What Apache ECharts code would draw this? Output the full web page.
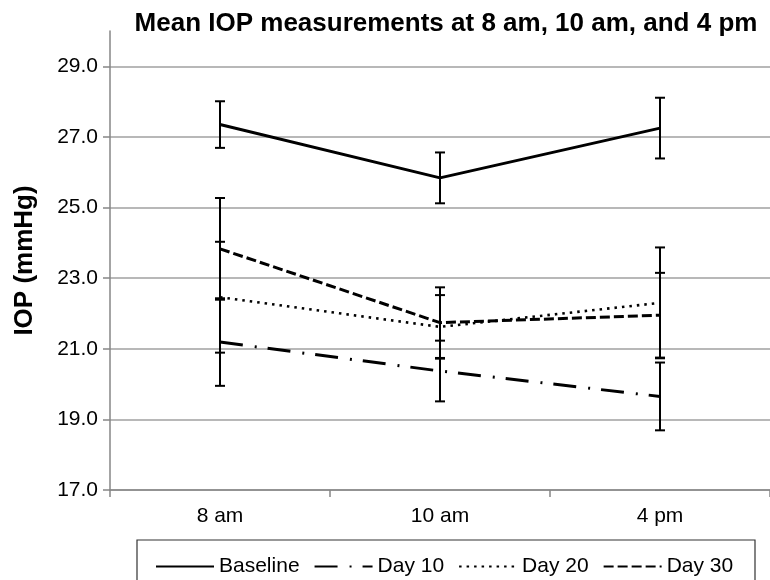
<!DOCTYPE html>
<html>
<head>
<meta charset="utf-8">
<script src="https://cdn.jsdelivr.net/npm/echarts@6/dist/echarts.min.js"></script>
<style>
  html, body { margin: 0; padding: 0; background: #fff; }
  #chart { width: 770px; height: 580px; }
</style>
</head>
<body>
<div id="chart"></div>
<script>
// ---- Data ----
const categories = ['8 am', '10 am', '4 pm'];
const seriesNames = ['Baseline', 'Day 10', 'Day 20', 'Day 30'];
const baseline    = [27.35, 25.84, 27.25];
const baselineErr = [0.66, 0.72, 0.86];
const day10       = [21.19, 20.37, 19.65];
const day10Err    = [1.24, 0.86, 0.96];
const day20       = [22.46, 21.62, 22.30];
const day20Err    = [1.57, 0.90, 1.57];
const day30       = [23.83, 21.74, 21.95];
const day30Err    = [1.44, 1.00, 1.20];
const yTicks      = [17, 19, 21, 23, 25, 27, 29];

const means = [baseline, day10, day20, day30];
const errs  = [baselineErr, day10Err, day20Err, day30Err];
const dashes = [
  'solid',
  [23, 12, 2, 11],
  [2.5, 5],
  [10, 4]
];
const widths = [3, 3, 2.6, 3];

const font = 'Liberation Sans, Arial, Helvetica, sans-serif';

const lineSeries = seriesNames.map((name, k) => ({
  name: name,
  type: 'line',
  data: means[k],
  symbol: 'none',
  color: '#000',
  z: 3,
  lineStyle: { color: '#000', width: widths[k], type: dashes[k], cap: 'butt' }
}));

const errSeries = seriesNames.map((name, k) => ({
  name: name + ' SD',
  type: 'custom',
  z: 2,
  data: categories.map((c, i) => [i, means[k][i], errs[k][i]]),
  renderItem: function (params, api) {
    const x = api.value(0), m = api.value(1), e = api.value(2);
    const top = api.coord([x, m + e]);
    const bot = api.coord([x, m - e]);
    const hw = 5;
    const st = { stroke: '#000', lineWidth: 2 };
    return {
      type: 'group',
      children: [
        { type: 'line', shape: { x1: top[0], y1: top[1], x2: bot[0], y2: bot[1] }, style: st },
        { type: 'line', shape: { x1: top[0] - hw, y1: top[1], x2: top[0] + hw, y2: top[1] }, style: st },
        { type: 'line', shape: { x1: bot[0] - hw, y1: bot[1], x2: bot[0] + hw, y2: bot[1] }, style: st }
      ]
    };
  }
}));

const chart = echarts.init(document.getElementById('chart'), null, { renderer: 'canvas' });
chart.setOption({
  animation: false,
  backgroundColor: '#fff',
  textStyle: { fontFamily: font },
  title: {
    text: 'Mean IOP measurements at 8 am, 10 am, and 4 pm',
    left: 441,
    textAlign: 'center',
    top: 6,
    textStyle: { fontFamily: font, fontSize: 26, fontWeight: 'bold', color: '#000' }
  },
  grid: { left: 110, top: 31, width: 672, bottom: 90, containLabel: false },
  legend: {
    data: seriesNames,
    left: 150,
    top: 551,
    itemWidth: 58,
    itemHeight: 14,
    itemGap: 14,
    itemStyle: { color: 'rgba(0,0,0,0)', borderWidth: 0, opacity: 0 },
    textStyle: { fontFamily: font, fontSize: 21, color: '#000' },
    inactiveColor: '#000'
  },
  graphic: [{
    type: 'rect',
    shape: { x: 137, y: 540, width: 618, height: 60 },
    style: { fill: 'none', stroke: '#333', lineWidth: 1.2 },
    silent: true
  }],
  xAxis: {
    type: 'category',
    data: categories,
    boundaryGap: true,
    axisLine: { show: true, lineStyle: { color: '#868686', width: 1.5 } },
    axisTick: { show: true, length: 7, alignWithLabel: false, lineStyle: { color: '#868686', width: 1.5 } },
    axisLabel: { margin: 16, fontSize: 21, color: '#000', fontFamily: font },
    splitLine: { show: false }
  },
  yAxis: {
    type: 'value',
    min: 17,
    max: 30,
    name: 'IOP (mmHg)',
    nameLocation: 'middle',
    nameGap: 72,
    nameTextStyle: { fontFamily: font, fontSize: 26, fontWeight: 'bold', color: '#000' },
    axisLine: { show: true, lineStyle: { color: '#868686', width: 1.5 } },
    axisTick: { show: true, length: 7, customValues: yTicks, lineStyle: { color: '#868686', width: 1.5 } },
    axisLabel: {
      customValues: yTicks,
      margin: 12,
      fontSize: 21,
      color: '#000',
      fontFamily: font,
      formatter: v => v.toFixed(1)
    },
    splitLine: { show: true, lineStyle: { color: '#a0a0a0', width: 1.5 } }
  },
  series: lineSeries.concat(errSeries)
});
</script>
</body>
</html>
